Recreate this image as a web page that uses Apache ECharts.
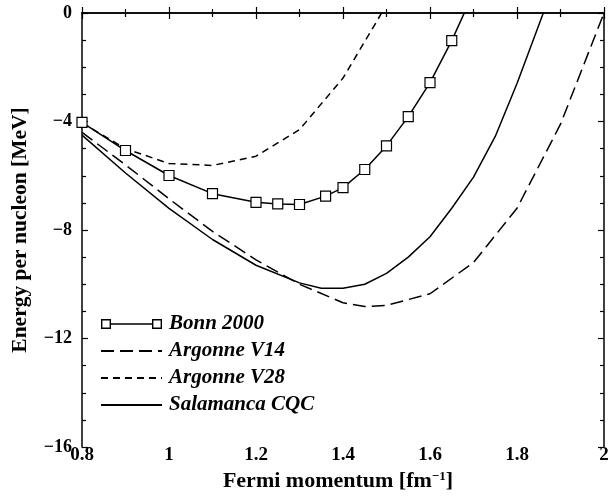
<!DOCTYPE html>
<html><head><meta charset="utf-8">
<script src="https://cdn.jsdelivr.net/npm/echarts@6/dist/echarts.min.js"></script>
<style>html,body{margin:0;padding:0;background:#fff}#c{width:608px;height:502px}</style>
</head><body><div id="c"></div>
<script>
// ---- data ----
const bonnX = [0.8, 0.9, 1.0, 1.1, 1.2, 1.25, 1.3, 1.36, 1.4, 1.45, 1.5, 1.55, 1.6, 1.65];
const bonnY = [-4.03, -5.07, -5.99, -6.66, -6.98, -7.04, -7.06, -6.75, -6.44, -5.77, -4.90, -3.82, -2.57, -1.02];
const bonnTailX = [1.7];       // line continues above the frame (no marker)
const bonnTailY = [0.75];

const v14X = [0.8, 0.9, 1.0, 1.1, 1.2, 1.3, 1.4, 1.45, 1.5, 1.6, 1.7, 1.8, 1.9, 2.0];
const v14Y = [-4.4, -5.6, -6.85, -8.05, -9.1, -10.0, -10.68, -10.82, -10.78, -10.35, -9.2, -7.2, -4.1, 0.0];

const v28X = [0.8, 0.9, 1.0, 1.1, 1.2, 1.3, 1.4, 1.5];
const v28Y = [-4.05, -5.0, -5.55, -5.62, -5.28, -4.3, -2.4, 0.3];

const cqcX = [0.8, 0.9, 1.0, 1.1, 1.2, 1.3, 1.35, 1.4, 1.45, 1.5, 1.55, 1.6, 1.65, 1.7, 1.75, 1.8, 1.85, 1.9];
const cqcY = [-4.5, -5.9, -7.2, -8.35, -9.3, -9.95, -10.15, -10.15, -10.0, -9.6, -9.0, -8.25, -7.2, -6.05, -4.55, -2.6, -0.45, 1.7];

const seriesNames = ['Bonn 2000', 'Argonne V14', 'Argonne V28', 'Salamanca CQC'];
const xName = 'Fermi momentum [fm';
const xNameSup = '\u22121';
const yName = 'Energy per nucleon [MeV]';

// ---- build ----
const zip = (xs, ys) => xs.map((x, i) => [x, ys[i]]);
const bonnData = zip(bonnX, bonnY).concat(zip(bonnTailX, bonnTailY).map(v => ({value: v, symbol: 'none'})));

const FONT = 'Liberation Serif';
const fmtX = v => String(parseFloat(v.toFixed(2)));
const fmtY = v => v === 0 ? '0' : '\u2212' + Math.abs(v);

const frameLine = {show: true, lineStyle: {color: '#000', width: 1.5}};
const tick = {show: true, inside: true, length: 6, lineStyle: {color: '#000', width: 1.2}};
const mtick = (n) => ({show: true, splitNumber: n, length: 4, lineStyle: {color: '#000', width: 1.2}});

const bonnIcon = 'path://M0,0L10,0L10,10L0,10Z M1.4,1.4L1.4,8.6L8.6,8.6L8.6,1.4Z M10,4.3L51,4.3L51,5.7L10,5.7Z M51,0L61,0L61,10L51,10Z M52.4,1.4L52.4,8.6L59.6,8.6L59.6,1.4Z';
const hiddenDot = {color: 'rgba(0,0,0,0)', borderWidth: 0, opacity: 0};

const chart = echarts.init(document.getElementById('c'), null, {renderer: 'canvas'});
chart.setOption({
  animation: false,
  backgroundColor: '#fff',
  grid: {left: 82, right: 4, top: 13, bottom: 55, containLabel: false, outerBoundsMode: 'none'},
  xAxis: [{
    type: 'value', min: 0.8, max: 2.0, interval: 0.2, position: 'bottom',
    axisLine: frameLine, axisTick: tick, minorTick: mtick(2), splitLine: {show: false},
    axisLabel: {formatter: fmtX, color: '#000', fontFamily: FONT, fontWeight: 'bold', fontSize: 19, margin: -1},
    name: '{a|' + xName + '}{s|' + xNameSup + '}{a|]}', nameLocation: 'middle', nameGap: 23,
    nameTextStyle: {color: '#000', fontFamily: FONT, fontWeight: 'bold', fontSize: 22, padding: [0, 10, 0, 0],
      rich: {a: {fontFamily: FONT, fontWeight: 'bold', fontSize: 22, color: '#000'},
             s: {fontFamily: FONT, fontWeight: 'bold', fontSize: 13, color: '#000', verticalAlign: 'top'}}}
  }, {
    type: 'value', min: 0.8, max: 2.0, interval: 0.2, position: 'top',
    axisLine: frameLine, axisTick: tick, minorTick: mtick(2), splitLine: {show: false},
    axisLabel: {show: false}
  }],
  yAxis: [{
    type: 'value', min: -16, max: 0, interval: 4, position: 'left',
    axisLine: frameLine, axisTick: tick, minorTick: mtick(4), splitLine: {show: false},
    axisLabel: {formatter: fmtY, color: '#000', fontFamily: FONT, fontWeight: 'bold', fontSize: 18, margin: 10},
    name: yName, nameLocation: 'middle', nameRotate: 90, nameGap: 51,
    nameTextStyle: {color: '#000', fontFamily: FONT, fontWeight: 'bold', fontSize: 21.5}
  }, {
    type: 'value', min: -16, max: 0, interval: 4, position: 'right',
    axisLine: frameLine, axisTick: tick, minorTick: mtick(4), splitLine: {show: false},
    axisLabel: {show: false}
  }],
  legend: {
    orient: 'vertical', left: 95, top: 308, itemWidth: 61, itemHeight: 10, itemGap: 5,
    textStyle: {color: '#000', fontFamily: FONT, fontWeight: 'bold', fontStyle: 'italic', fontSize: 21, lineHeight: 22, padding: [0, 0, 0, 2]},
    data: [
      {name: seriesNames[0], icon: bonnIcon, itemStyle: {color: '#000', borderWidth: 0}},
      {name: seriesNames[1], itemStyle: hiddenDot},
      {name: seriesNames[2], itemStyle: hiddenDot},
      {name: seriesNames[3], itemStyle: hiddenDot}
    ]
  },
  series: [
    {name: seriesNames[0], type: 'line', data: bonnData, symbol: 'rect', symbolSize: 10, clip: true,
     lineStyle: {color: '#000', width: 1.5}, itemStyle: {color: '#fff', borderColor: '#000', borderWidth: 1.2}, z: 5},
    {name: seriesNames[1], type: 'line', data: zip(v14X, v14Y), symbol: 'none', clip: true,
     lineStyle: {color: '#000', width: 1.5, type: [13, 6]}, itemStyle: {color: '#000'}},
    {name: seriesNames[2], type: 'line', data: zip(v28X, v28Y), symbol: 'none', clip: true,
     lineStyle: {color: '#000', width: 1.5, type: [7, 5]}, itemStyle: {color: '#000'}},
    {name: seriesNames[3], type: 'line', data: zip(cqcX, cqcY), symbol: 'none', clip: true,
     lineStyle: {color: '#000', width: 1.5}, itemStyle: {color: '#000'}}
  ]
});
</script>
</body></html>
